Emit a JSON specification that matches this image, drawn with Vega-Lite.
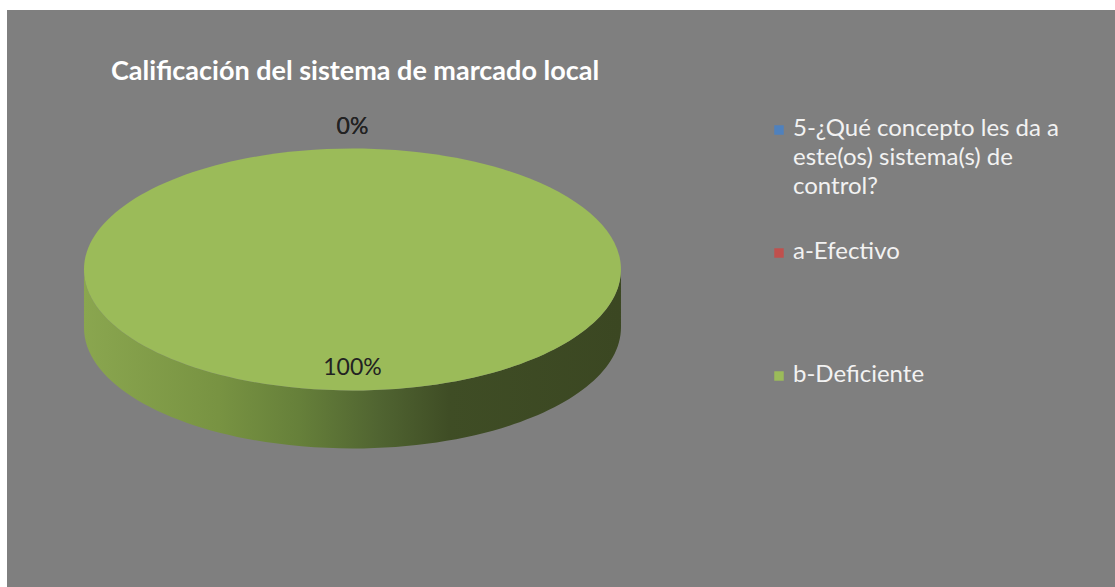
{
  "$schema": "https://vega.github.io/schema/vega-lite/v6.json",
  "width": 1108,
  "height": 577,
  "autosize": "none",
  "padding": {"left": 7, "top": 10, "right": 0, "bottom": 0},
  "background": "#ffffff",
  "config": {
    "view": {"fill": "#7f7f7f", "stroke": null},
    "font": "Lato"
  },
  "title": {
    "text": "Calificación del sistema de marcado local",
    "anchor": "start",
    "dx": 104,
    "offset": -97,
    "baseline": "alphabetic",
    "font": "Lato",
    "fontSize": 27,
    "fontWeight": "bold",
    "color": "#ffffff"
  },
  "data": {
    "values": [
      {"categoria": "5-¿Qué concepto les da a este(os) sistema(s) de control?", "porcentaje": 0},
      {"categoria": "a-Efectivo", "porcentaje": 0},
      {"categoria": "b-Deficiente", "porcentaje": 1}
    ]
  },
  "layer": [
    {
      "transform": [{"filter": "datum.porcentaje > 0"}],
      "mark": {
        "type": "point",
        "filled": true,
        "opacity": 1,
        "strokeWidth": 0,
        "size": 288369,
        "shape": "M -1 -0.108 L -1 0.108 A 1 0.4507 0 0 0 1 0.108 L 1 -0.108 A 1 0.4507 0 0 1 -1 -0.108 Z",
        "color": {
          "gradient": "linear",
          "x1": 0, "y1": 0, "x2": 1, "y2": 0,
          "stops": [
            {"offset": 0, "color": "#8aa64f"},
            {"offset": 0.25, "color": "#789342"},
            {"offset": 0.4, "color": "#66803a"},
            {"offset": 0.55, "color": "#506431"},
            {"offset": 0.68, "color": "#3f4d25"},
            {"offset": 1, "color": "#3b4722"}
          ]
        }
      },
      "encoding": {
        "x": {"datum": 0.3118, "type": "quantitative", "scale": {"domain": [0, 1]}, "axis": null}
      }
    },
    {
      "transform": [{"filter": "datum.porcentaje > 0"}],
      "mark": {
        "type": "point",
        "filled": true,
        "opacity": 1,
        "strokeWidth": 0,
        "size": 288369,
        "shape": "M -1 -0.108 A 1 0.4507 0 1 1 1 -0.108 A 1 0.4507 0 1 1 -1 -0.108 Z"
      },
      "encoding": {
        "x": {"datum": 0.3118, "type": "quantitative", "scale": {"domain": [0, 1]}, "axis": null},
        "color": {
          "field": "categoria",
          "type": "nominal",
          "scale": {
            "domain": ["5-¿Qué concepto les da a este(os) sistema(s) de control?", "a-Efectivo", "b-Deficiente"],
            "range": ["#4f81bd", "#c0504d", "#9bbb59"]
          },
          "legend": {
            "title": null,
            "orient": "none",
            "legendX": 760,
            "legendY": 108,
            "padding": 0,
            "rowPadding": 12,
            "symbolType": "square",
            "symbolSize": 90,
            "symbolStrokeWidth": 0,
            "symbolOpacity": 1,
            "labelFont": "Lato",
            "labelFontSize": 24,
            "labelColor": "#f2f2f2",
            "labelOffset": 2,
            "labelLimit": 0,
            "labelBaseline": "top",
            "labelExpr": "datum.label == 'a-Efectivo' ? ['a-Efectivo', '', '', ''] : datum.label == 'b-Deficiente' ? datum.label : ['5-¿Qué concepto les da a', 'este(os) sistema(s) de', 'control?', '']",
            "encode": {
              "labels": {"update": {"lineHeight": {"value": 29}, "dy": {"value": -13}}}
            }
          }
        }
      }
    },
    {
      "transform": [{"filter": "datum.porcentaje == 0"}],
      "mark": {"type": "text", "radius": 142, "dy": -29.5, "font": "Lato", "fontSize": 23, "color": "#222222", "baseline": "middle"},
      "encoding": {
        "x": {"datum": 0.3118, "type": "quantitative", "scale": {"domain": [0, 1]}, "axis": null},
        "theta": {"field": "porcentaje", "type": "quantitative", "stack": true},
        "detail": {"field": "categoria", "type": "nominal"},
        "text": {"field": "porcentaje", "type": "quantitative", "format": ".0%"}
      }
    },
    {
      "transform": [{"filter": "datum.porcentaje > 0"}],
      "mark": {"type": "text", "radius": 99, "dy": -29.5, "font": "Lato", "fontSize": 23, "color": "#222222", "baseline": "middle"},
      "encoding": {
        "x": {"datum": 0.3118, "type": "quantitative", "scale": {"domain": [0, 1]}, "axis": null},
        "theta": {"field": "porcentaje", "type": "quantitative", "stack": true},
        "detail": {"field": "categoria", "type": "nominal"},
        "text": {"field": "porcentaje", "type": "quantitative", "format": ".0%"}
      }
    }
  ]
}
